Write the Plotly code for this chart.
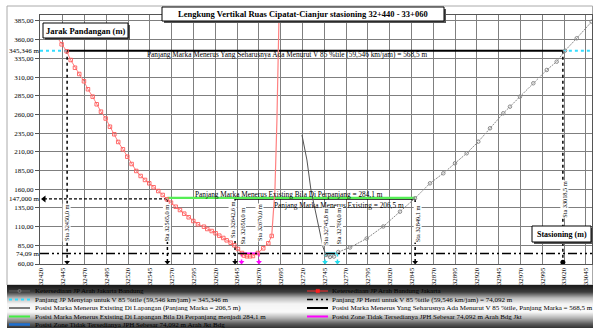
import plotly.graph_objects as go

# ---------------- data ----------------
x_ticks = list(range(32420, 33046, 25))
y_ticks = [60, 85, 110, 135, 160, 185, 210, 235, 260, 285, 310, 335, 360, 385]

JP_MENYIAP = 345.346      # m
JP_HENTI = 74.092         # m
MARKA_Y = 147.0
GREEN_Y = 148.3

# Ketersediaan JP Arah Bandung Jakarta (red)
red_x = [32438.3, 32443.7, 32449.5, 32454.1, 32459.0, 32463.9, 32469.3, 32473.9, 32479.3, 32483.9,
         32488.8, 32494.2, 32499.1, 32504.1, 32508.6, 32514.0, 32519.0, 32524.0, 32529.3, 32534.3,
         32539.3, 32544.2, 32549.2, 32554.5, 32559.6, 32564.5, 32569.1, 32574.5, 32579.4, 32584.3,
         32589.4, 32594.7, 32600.0, 32606.9, 32610.7, 32615.8, 32620.3, 32624.5, 32629.1, 32633.0,
         32637.5, 32641.7, 32645.9, 32650.5, 32652.8, 32656.2, 32659.7, 32663.1, 32668.8, 32674.9,
         32680.7, 32684.6]
red_y = [363.6, 353.8, 344.5, 332.8, 322.5, 314.1, 304.4, 293.7, 283.8, 273.6,
         263.7, 254.6, 243.6, 233.5, 223.2, 213.4, 203.5, 193.7, 184.4, 177.7,
         172.4, 167.9, 162.6, 157.6, 152.3, 146.5, 142.0, 136.6, 132.2, 127.3,
         122.5, 117.5, 113.1, 109.9, 106.8, 104.1, 101.1, 97.9, 94.8, 91.7,
         88.5, 85.0, 80.1, 74.7, 71.4, 70.3, 70.3, 70.7, 74.7, 81.0,
         87.7, 97.5]
red_rise_x = [32684.6, 32686.4, 32688.3, 32690.6, 32693.0]
red_rise_y = [97.5, 125.5, 159.0, 252.6, 393.0]

# Ketersediaan JP Arah Jakarta Bandung (gray)
gray_left_x = [32719.3, 32725.0, 32729.6, 32734.2, 32738.8, 32743.4, 32746.8]
gray_left_y = [232.5, 199.1, 159.0, 132.2, 105.5, 82.7, 72.0]
gray_x = [32746.8, 32751.4, 32756.0, 32760.9, 32774.4, 32793.5, 32812.6, 32831.7, 32848.9, 32866.1,
          32881.4, 32894.8, 32908.2, 32921.5, 32934.9, 32950.2, 32957.8, 32969.3, 32984.6, 33000.0,
          33011.4, 33021.0, 33034.4, 33051.5]
gray_y = [72.0, 69.4, 70.0, 76.1, 82.1, 94.1, 110.2, 130.0, 147.9, 167.9,
          181.3, 194.7, 208.1, 223.6, 241.5, 261.6, 270.4, 283.8, 301.7, 319.5,
          330.6, 345.3, 361.9, 384.1]

# stations (m)
STA_A = 32450.0      # start marka seharusnya
STA_B = 33018.5      # end marka seharusnya
STA_G = 32565.0      # start marka diperpanjang
STA_E = 32642.6      # start marka existing
STA_END = 32849.1    # end marka existing
ZONE_BJ = [32650.0, 32670.0]
ZONE_JB = [32745.8, 32760.0]

legend_left = [
    "Ketersediaan JP Arah Jakarta Bandung",
    "Panjang JP Menyiap untuk V 85 %tile (59,546 km/jam) = 345,346 m",
    "Posisi Marka Menerus Existing Di Lapangan (Panjang Marka = 206,5 m)",
    "Posisi Marka Menerus Existing Di Lapangan Bila Di Perpanjang menjadi 284,1 m",
    "Posisi Zone Tidak Tersedianya JPH Sebesar 74,092 m Arah Jkt Bdg",
]
legend_right = [
    "Ketersediaan JP Arah Bandung Jakarta",
    "Panjang JP Henti untuk V 85 %tile (59,546 km/jam) = 74,092 m",
    "Posisi Marka Menerus Yang Seharusnya Ada Menurut V 85 %tile, Panjang Marka = 568,5 m",
    "Posisi Zone Tidak Tersedianya JPH Sebesar 74,092 m Arah Bdg Jkt",
]

# ---------------- geometry helpers ----------------
W, H = 593, 328
ML, MR, MT, MB = 40, 1, 15, 64
PW, PH = W - ML - MR, H - MT - MB
X0, X1 = 32418.9, 33051.9
Y0, Y1 = 60.0, 393.0
BOT = 62.5
FONT = "Liberation Serif"


def dx(p):
    return X0 + (p - ML) * (X1 - X0) / PW


def dy(p):
    return Y1 - (p - MT) * (Y1 - Y0) / PH


def xp(p):
    return (p - ML) / PW


def yp(p):
    return (H - MB - p) / PH


def fmt(v, d):
    return f"{v:.{d}f}".replace(".", ",")


fig = go.Figure()

# dash-dot JP henti line
fig.add_trace(go.Scatter(x=[X0, X1], y=[JP_HENTI, JP_HENTI], mode="lines", yaxis="y2",
                         line=dict(color="black", width=1.5, dash="9px,3px,2px,3px,2px,3px")))
# cyan JP menyiap
for xs in ([X0, STA_A], [STA_B, X1]):
    fig.add_trace(go.Scatter(x=xs, y=[JP_MENYIAP] * 2, mode="lines",
                             line=dict(color="#33ddff", width=2, dash="dot")))
# black marka seharusnya
fig.add_trace(go.Scatter(x=[STA_A, STA_B], y=[JP_MENYIAP] * 2, mode="lines",
                         line=dict(color="black", width=2)))
# dashed black 147 with arrow
fig.add_trace(go.Scatter(x=[dx(44), STA_G], y=[MARKA_Y] * 2, mode="lines",
                         line=dict(color="black", width=1.2, dash="3px,2px")))
fig.add_trace(go.Scatter(x=[dx(44)], y=[MARKA_Y], mode="markers",
                         marker=dict(symbol="triangle-left", size=6, color="black")))
# existing marka
fig.add_trace(go.Scatter(x=[STA_E, STA_END], y=[MARKA_Y] * 2, mode="lines",
                         line=dict(color="black", width=1.5)))
# green
fig.add_trace(go.Scatter(x=[STA_G, STA_END], y=[GREEN_Y] * 2, mode="lines",
                         line=dict(color="#55ee55", width=2.2)))

# vertical dotted station lines
for sx, top, sym in [(STA_A, JP_MENYIAP, "triangle-down"), (STA_G, MARKA_Y, "triangle-down"),
                     (STA_E, MARKA_Y, "triangle-down"), (STA_END, MARKA_Y, "triangle-down"),
                     (STA_B, JP_MENYIAP, "circle")]:
    fig.add_trace(go.Scatter(x=[sx, sx], y=[top, BOT], mode="lines",
                             line=dict(color="black", width=1.5, dash="dot")))
    fig.add_trace(go.Scatter(x=[sx], y=[BOT], mode="markers",
                             marker=dict(symbol=sym, size=5, color="black")))

# zones
for zone, col in [(ZONE_BJ, "#ff00ff"), (ZONE_JB, "#22ddee")]:
    fig.add_trace(go.Scatter(x=zone, y=[JP_HENTI] * 2, mode="lines", line=dict(color=col, width=2)))
    for sx in zone:
        fig.add_trace(go.Scatter(x=[sx, sx], y=[JP_HENTI, BOT], mode="lines",
                                 line=dict(color=col, width=1.5, dash="dot")))
        fig.add_trace(go.Scatter(x=[sx], y=[BOT], mode="markers",
                                 marker=dict(symbol="triangle-down", size=5, color=col)))

# gray series
fig.add_trace(go.Scatter(x=gray_left_x, y=gray_left_y, mode="lines",
                         line=dict(color="#555555", width=1)))
fig.add_trace(go.Scatter(x=gray_x, y=gray_y, mode="lines+markers",
                         line=dict(color="#8a8a8a", width=1, dash="2px,1px"),
                         marker=dict(symbol="circle-open", size=3.5, color="#8a8a8a", line=dict(width=1))))
# red series
fig.add_trace(go.Scatter(x=red_x, y=red_y, mode="lines+markers",
                         line=dict(color="#ff8080", width=1),
                         marker=dict(symbol="square-open", size=3.5, color="#ff5a5a", line=dict(width=0.9))))
fig.add_trace(go.Scatter(x=red_rise_x, y=red_rise_y, mode="lines",
                         line=dict(color="#ff8080", width=1.2)))

fig.update_traces(showlegend=False, hoverinfo="skip")

shapes = []
annotations = []

# outer frame
shapes.append(dict(type="rect", xref="paper", yref="paper", x0=xp(7), x1=xp(592.5), y0=yp(285), y1=yp(6),
                   line=dict(color="#aaaaaa", width=1), layer="below"))

# legend background gradient
grad = [(285, 25), (292, 60), (298, 185), (304, 245), (312, 250), (318, 180), (324, 90), (329, 40)]


def gray_at(y):
    for (a, ga), (b, gb) in zip(grad[:-1], grad[1:]):
        if a <= y <= b:
            return ga + (gb - ga) * (y - a) / (b - a)
    return grad[-1][1]


for yy in range(285, 329):
    g = int(gray_at(yy + 0.5))
    shapes.append(dict(type="rect", xref="paper", yref="paper", x0=xp(7), x1=xp(593), y0=yp(yy + 1.05),
                       y1=yp(yy), fillcolor=f"rgb({g},{g},{g})", line=dict(width=0), layer="above"))

rows = [291, 299.5, 308, 316.5, 324.5]


def seg(x0, x1, y, color, width, dash="solid"):
    shapes.append(dict(type="line", xref="paper", yref="paper", x0=xp(x0), x1=xp(x1), y0=yp(y), y1=yp(y),
                       line=dict(color=color, width=width, dash=dash), layer="above"))


# left legend samples
seg(9, 30, rows[0], "#555555", 1.5)
shapes.append(dict(type="circle", xref="paper", yref="paper", x0=xp(18), x1=xp(21), y0=yp(rows[0] + 1.5),
                   y1=yp(rows[0] - 1.5), line=dict(color="#777777", width=1), layer="above"))
seg(9, 30, rows[1], "#33ddff", 2, "dot")
seg(9, 30, rows[2], "black", 1)
seg(9, 30, rows[3], "#44ee44", 2)
seg(9, 30, rows[4], "#1f70d0", 2.5)
# right legend samples
seg(307, 328, rows[0], "#ff3030", 1)
shapes.append(dict(type="rect", xref="paper", yref="paper", x0=xp(316), x1=xp(319.5), y0=yp(rows[0] + 1.7),
                   y1=yp(rows[0] - 1.7), fillcolor="#ff2020", line=dict(color="#ff2020", width=0.5), layer="above"))
seg(307, 328, rows[1], "black", 1.5, "6px,3px,2px,3px,2px,3px")
seg(307, 328, rows[2], "black", 2)
seg(307, 328, rows[3], "#ff00ff", 2)

for txt, r in zip(legend_left, rows):
    annotations.append(dict(xref="paper", yref="paper", x=xp(33), y=yp(r), text=txt, showarrow=False,
                            xanchor="left", yanchor="middle", font=dict(family=FONT, size=7, color="black")))
for txt, r in zip(legend_right, rows):
    annotations.append(dict(xref="paper", yref="paper", x=xp(330), y=yp(r), text=txt, showarrow=False,
                            xanchor="left", yanchor="middle", font=dict(family=FONT, size=7, color="black")))

# boxes with shadow
for (bx0, by0, bx1, by1), txt, fs in [((162, 7, 444, 21), "Lengkung Vertikal Ruas Cipatat-Cianjur stasioning 32+440 - 33+060", 8.5),
                                      ((43, 23, 128, 38), "Jarak Pandangan (m)", 8.5),
                                      ((532, 226, 591, 242), "Stasioning (m)", 8)]:
    shapes.append(dict(type="rect", xref="paper", yref="paper", x0=xp(bx0 + 2), x1=xp(bx1 + 2),
                       y0=yp(by1 + 2), y1=yp(by0 + 2), fillcolor="#555555", line=dict(width=0), layer="above"))
    shapes.append(dict(type="rect", xref="paper", yref="paper", x0=xp(bx0), x1=xp(bx1),
                       y0=yp(by1), y1=yp(by0), fillcolor="white", line=dict(color="black", width=1), layer="above"))
    annotations.append(dict(xref="paper", yref="paper", x=xp((bx0 + bx1) / 2), y=yp((by0 + by1) / 2),
                            text=f"<b>{txt}</b>", showarrow=False, xanchor="center", yanchor="middle",
                            font=dict(family=FONT, size=fs, color="black")))

# marka labels
for cx, cy, txt in [(287, 54.5, f"Panjang Marka Menerus Yang Seharusnya Ada Menurut V 85 %tile (59,546 km/jam) = {fmt(STA_B - STA_A, 1)} m"),
                    (289, 194, f"Panjang Marka Menerus Existing Bila Di Perpanjang = {fmt(STA_END - STA_G, 1)} m"),
                    (339, 205, f"Panjang Marka Menerus Existing = {fmt(STA_END - STA_E, 1)} m")]:
    annotations.append(dict(x=dx(cx), y=dy(cy), text=txt, showarrow=False, xanchor="center", yanchor="middle",
                            font=dict(family=FONT, size=7.3, color="black")))

# station labels
for sx, cy, sh in [(STA_A, 223, -1), (STA_G, 223, -1), (STA_E, 220, -3), (ZONE_BJ[0], 226, 0),
                   (ZONE_BJ[1], 222, 0), (ZONE_JB[0], 227, 0), (ZONE_JB[1], 226, 1),
                   (STA_END, 224, 2), (STA_B, 199, 1)]:
    annotations.append(dict(x=sx, y=dy(cy), text=f"Sta {fmt(sx, 1)} m", showarrow=False, textangle=-90,
                            xanchor="center", yanchor="middle", xshift=sh, bgcolor="white", borderpad=0,
                            font=dict(family=FONT, size=6.3, color="black")))

fig.update_layout(
    width=W, height=H,
    margin=dict(l=ML, r=MR, t=MT, b=MB, pad=0),
    paper_bgcolor="white", plot_bgcolor="white",
    showlegend=False,
    font=dict(family=FONT, size=7, color="black"),
    xaxis=dict(range=[X0, X1], tickvals=x_ticks, ticktext=[str(v) for v in x_ticks], tickangle=-90,
               showgrid=True, gridcolor="#7f7f7f", gridwidth=1, zeroline=False, showline=True, mirror=True,
               linecolor="#555555", linewidth=1, ticks="", tickfont=dict(family=FONT, size=7), automargin=False),
    yaxis=dict(range=[Y0, Y1], tickvals=y_ticks, ticktext=[fmt(v, 2) for v in y_ticks],
               showgrid=True, gridcolor="#7f7f7f", gridwidth=1, zeroline=False, showline=True, mirror=True,
               linecolor="#555555", linewidth=1, ticks="outside", ticklen=4, tickcolor="#555555",
               tickfont=dict(family=FONT, size=7), automargin=False),
    yaxis2=dict(range=[Y0, Y1], overlaying="y", side="left", anchor="x",
                tickvals=[JP_HENTI, MARKA_Y, JP_MENYIAP],
                ticktext=[fmt(JP_HENTI, 2) + " m", fmt(MARKA_Y, 3) + " m", fmt(JP_MENYIAP, 3) + " m"],
                showgrid=False, zeroline=False, showline=False, ticks="", ticklen=0,
                tickfont=dict(family=FONT, size=7), automargin=False),
    shapes=shapes,
    annotations=annotations,
)

fig.write_html("out.html", config={"displayModeBar": False, "staticPlot": True},
               post_script="document.body.style.margin='0px';document.body.style.overflow='hidden';")
